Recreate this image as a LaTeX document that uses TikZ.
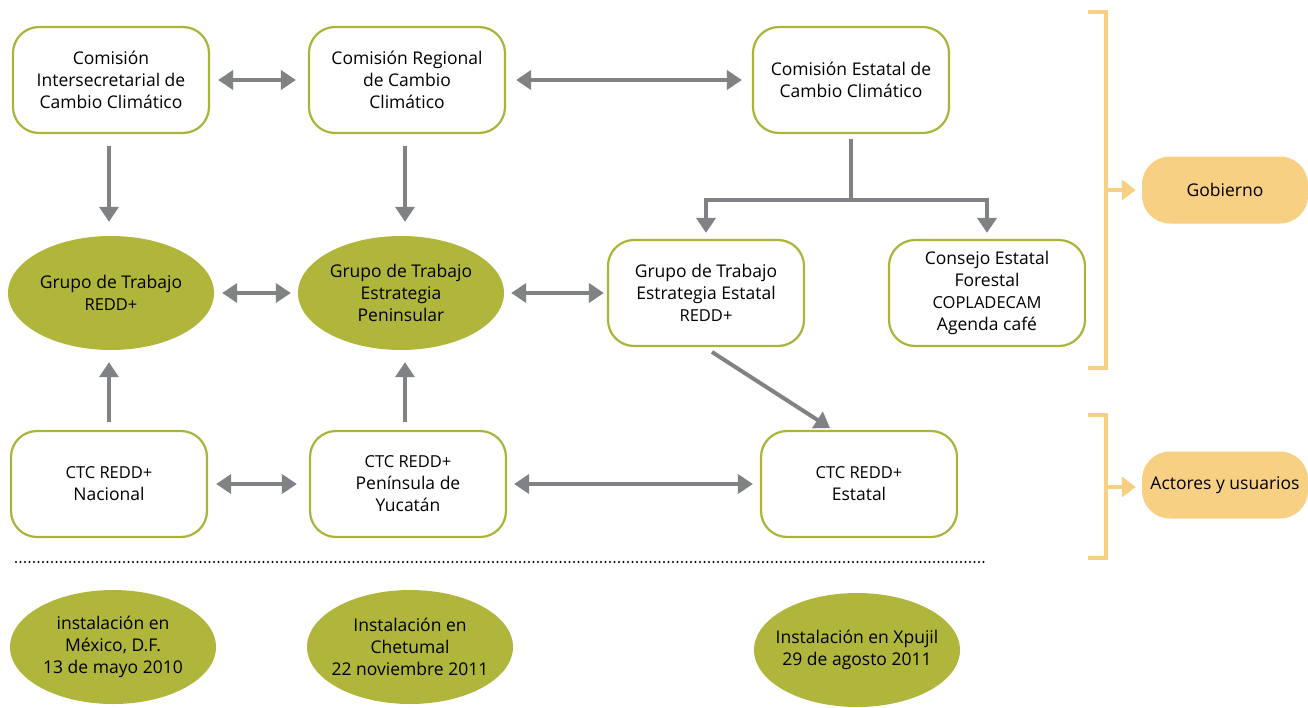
\documentclass[tikz,border=0pt]{standalone}
\usepackage{fontspec}
\setmainfont{Open Sans}
\usetikzlibrary{arrows.meta,shapes.geometric}
\definecolor{olive}{HTML}{AAB43A}
\definecolor{olivefill}{HTML}{AFB63B}
\definecolor{arrowgray}{HTML}{808285}
\definecolor{sand}{HTML}{F7D084}
\tikzset{
  rbox/.style={draw=olive, line width=2.2pt, rounded corners=26pt, fill=white,
    minimum width=196pt, minimum height=106pt, align=center, inner sep=2pt,
    font=\fontsize{17.5}{22}\selectfont},
  oval/.style={ellipse, fill=olivefill, minimum width=206pt, minimum height=114pt,
    align=center, inner xsep=-30pt, inner ysep=-4pt, font=\fontsize{17.5}{22}\selectfont},
  tag/.style={fill=sand, rounded corners=28pt, minimum width=166pt, minimum height=67pt,
    font=\fontsize{17.5}{22}\selectfont},
  conn/.style={draw=arrowgray, line width=4pt, -{Triangle[width=19pt,length=15pt]}},
  dconn/.style={draw=arrowgray, line width=4pt, {Triangle[width=19pt,length=15pt]}-{Triangle[width=19pt,length=15pt]}},
  brk/.style={draw=sand, line width=3.8pt},
  brkarrow/.style={draw=sand, line width=3.8pt, -{Triangle[width=20pt,length=14pt]}}
}
\newcommand{\sm}{\fontsize{16.5}{21}\selectfont}
\begin{document}
\begin{tikzpicture}[x=1pt,y=-1pt]
\useasboundingbox (0,0) rectangle (1308,707);

% top row: commissions
\node[rbox] (cicc) at (111,80) {Comisión\\Intersecretarial de\\Cambio Climático};
\node[rbox] (crcc) at (407,80) {Comisión Regional\\de Cambio\\Climático};
\node[rbox] (cecc) at (851,80) {Comisión Estatal de\\Cambio Climático};

% middle row: working groups
\node[oval] (gtr) at (111,293) {Grupo de Trabajo\\{\sm REDD+}};
\node[oval] (gtp) at (401,293) {Grupo de Trabajo\\Estrategia\\Peninsular};
\node[rbox] (gte) at (706,293) {Grupo de Trabajo\\Estrategia Estatal\\{\sm REDD+}};
\node[rbox] (cef) at (987,293) {Consejo Estatal\\Forestal\\{\sm COPLADECAM}\\Agenda café};

% lower row: CTC REDD+
\node[rbox] (ctcn) at (109,484) {{\sm CTC REDD+}\\Nacional};
\node[rbox] (ctcp) at (408,484) {{\sm CTC REDD+}\\Península de\\Yucatán};
\node[rbox] (ctce) at (859,484) {{\sm CTC REDD+}\\Estatal};

% installation dates
\node[oval] (i1) at (113,647) {instalación en\\México, D.F.\\13 de mayo 2010};
\node[oval] (i2) at (410,647) {Instalación en\\Chetumal\\22 noviembre 2011};
\node[oval] (i3) at (857,650) {Instalación en Xpujil\\29 de agosto 2011};

% side labels
\node[tag] (gob) at (1225,190) {Gobierno};
\node[tag] (act) at (1225,485) {Actores y usuarios};

% horizontal links
\draw[dconn] ([xshift=8pt]cicc.east) -- ([xshift=-12pt]crcc.west);
\draw[dconn] ([xshift=10pt]crcc.east) -- ([xshift=-10pt]cecc.west);
\draw[dconn] ([xshift=8pt]gtr.east) -- ([xshift=-7pt]gtp.west);
\draw[dconn] ([xshift=7pt]gtp.east) -- ([xshift=-3pt]gte.west);
\draw[dconn] ([xshift=8pt]ctcn.east) -- ([xshift=-12pt]ctcp.west);
\draw[dconn] ([xshift=7pt]ctcp.east) -- ([xshift=-7pt]ctce.west);

% vertical links (free ends as named coordinates)
\coordinate (d1) at (109,146);
\coordinate (d2) at (405,146);
\coordinate (u1) at (109,422);
\coordinate (u2) at (405,422);
\draw[conn] (d1) -- ([yshift=14pt]gtr.north -| d1);
\draw[conn] (d2) -- ([yshift=14pt]gtp.north -| d2);
\draw[conn] (u1) -- ([yshift=-12pt]gtr.south -| u1);
\draw[conn] (u2) -- ([yshift=-12pt]gtp.south -| u2);

% state commission branches
\coordinate (split) at (851,200);
\draw[draw=arrowgray, line width=4pt] ([yshift=-5pt]cecc.south) -- (split);
\draw[conn] (split) -| ([yshift=6pt]gte.north);
\draw[conn] (split) -| ([yshift=6pt]cef.north);

% state working group to state CTC
\coordinate (g1) at (712,352);
\coordinate (g2) at (830,428);
\draw[conn] (g1) -- (g2);

% separator
\coordinate (s1) at (16,562);
\coordinate (s2) at (988,562);
\draw[draw=black, line width=2.3pt, line cap=round, dash pattern=on 0pt off 4.5pt] (s1) -- (s2);

% brackets
\draw[brk] (1088,12) -- (1106,12) -- (1106,368) -- (1088,368);
\coordinate (b1) at (1106,190);
\draw[brkarrow] (b1) -- ([xshift=-6pt]gob.west);
\draw[brk] (1088,415) -- (1106,415) -- (1106,558) -- (1088,558);
\coordinate (b2) at (1106,487);
\draw[brkarrow] (b2) -- ([xshift=-6pt]act.west |- b2);
\end{tikzpicture}
\end{document}
